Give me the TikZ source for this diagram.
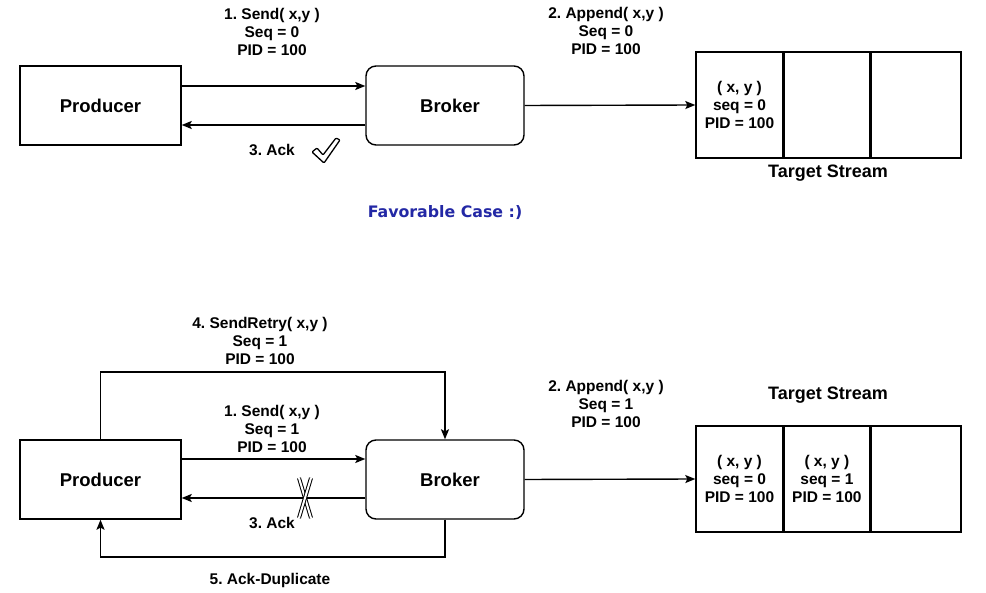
\documentclass[tikz,border=0pt]{standalone}
\usepackage{fontspec}
\setmainfont{Liberation Sans}
\newfontfamily\favfont{DejaVu Sans}
\usetikzlibrary{arrows.meta}
\definecolor{fav}{RGB}{35,40,165}
\frenchspacing
\tikzset{
  box/.style={draw, line width=1.4pt, minimum width=161pt, minimum height=79pt, inner sep=0pt, font=\fontsize{18.5}{22}\selectfont\bfseries},
  rbox/.style={box, rounded corners=10pt, minimum width=158pt},
  cell/.style={draw, line width=1.4pt, minimum height=106pt, inner sep=0pt, font=\fontsize{15.5}{18}\selectfont\bfseries, align=center},
  lbl/.style={font=\fontsize{15.5}{17.7}\selectfont\bfseries, align=center, inner sep=0pt},
  ttl/.style={font=\fontsize{18}{20}\selectfont\bfseries, inner sep=0pt},
  arr/.style={line width=1.4pt, -{Stealth[length=10pt,width=8pt,inset=2pt]}},
  ln/.style={line width=1.4pt}
}
\begin{document}
\begin{tikzpicture}[x=1pt,y=-1pt]
\useasboundingbox (0,0) rectangle (986,593);
% ---------- top ----------
\node[box] (p1) at (100.5,105.5) {Producer};
\node[rbox] (b1) at (445,105.5) {\hspace*{10pt}Broker};
\node[cell, minimum width=87pt] (t1a) at (739.5,105) {( x, y )\\seq = 0\\PID = 100};
\node[cell, minimum width=85pt, anchor=west] (t1b) at (t1a.east) {};
\node[cell, minimum width=90pt, anchor=west] (t1c) at (t1b.east) {};
\draw[arr] (p1.east |- 0,86) -- (b1.west |- 0,86);
\draw[arr] (b1.west |- 0,125) -- (p1.east |- 0,125);
\draw[arr] (b1.east) -- (t1a.west);
\node[lbl] (l1) at (272,32) {1. Send( x,y )\\Seq = 0\\PID = 100};
\node[lbl] (l2) at (606,31) {2. Append( x,y )\\Seq = 0\\PID = 100};
\node[lbl] (l3) at (272,150) {3. Ack};
\node[ttl] (ts1) at (828,173) {Target Stream};
\node[text=fav, font=\favfont\fontsize{15.8}{18}\selectfont\bfseries, inner sep=0pt] (fav) at (445,213) {Favorable Case :)};
% checkmark
\draw[line width=1.3pt, line join=round, rounded corners=1pt]
  (312,152) -- (317,148) -- (323,155) -- (336,138) -- (340,140) -- (324,163) -- cycle;
% ---------- bottom ----------
\node[box] (p2) at (100.5,479.5) {Producer};
\node[rbox] (b2) at (445,479.5) {\hspace*{10pt}Broker};
\node[cell, minimum width=87pt] (t2a) at (739.5,479) {( x, y )\\seq = 0\\PID = 100};
\node[cell, minimum width=85pt, anchor=west] (t2b) at (t2a.east) {( x, y )\\seq = 1\\PID = 100};
\node[cell, minimum width=90pt, anchor=west] (t2c) at (t2b.east) {};
\draw[arr] (p2.east |- 0,459) -- (b2.west |- 0,459);
\draw[arr] (b2.west |- 0,498) -- (p2.east |- 0,498);
\draw[arr] (b2.east) -- (t2a.west);
\draw[arr] (p2.north) |- (445,372) -- (b2.north);
\draw[arr] (b2.south) |- (100.5,557) -- (p2.south);
\node[lbl] (l4) at (260,341) {4. SendRetry( x,y )\\Seq = 1\\PID = 100};
\node[lbl] (l5) at (272,429) {1. Send( x,y )\\Seq = 1\\PID = 100};
\node[lbl] (l6) at (606,404) {2. Append( x,y )\\Seq = 1\\PID = 100};
\node[lbl] (l7) at (272,523) {3. Ack};
\node[lbl] (l8) at (270,580) {5. Ack-Duplicate};
\node[ttl] (ts2) at (828,395) {Target Stream};
% X mark
\draw[line width=1pt, double, double distance=2pt] (299,478) -- (311,518);
\draw[line width=1pt, double, double distance=2pt] (311,478) -- (299,518);
\end{tikzpicture}
\end{document}
